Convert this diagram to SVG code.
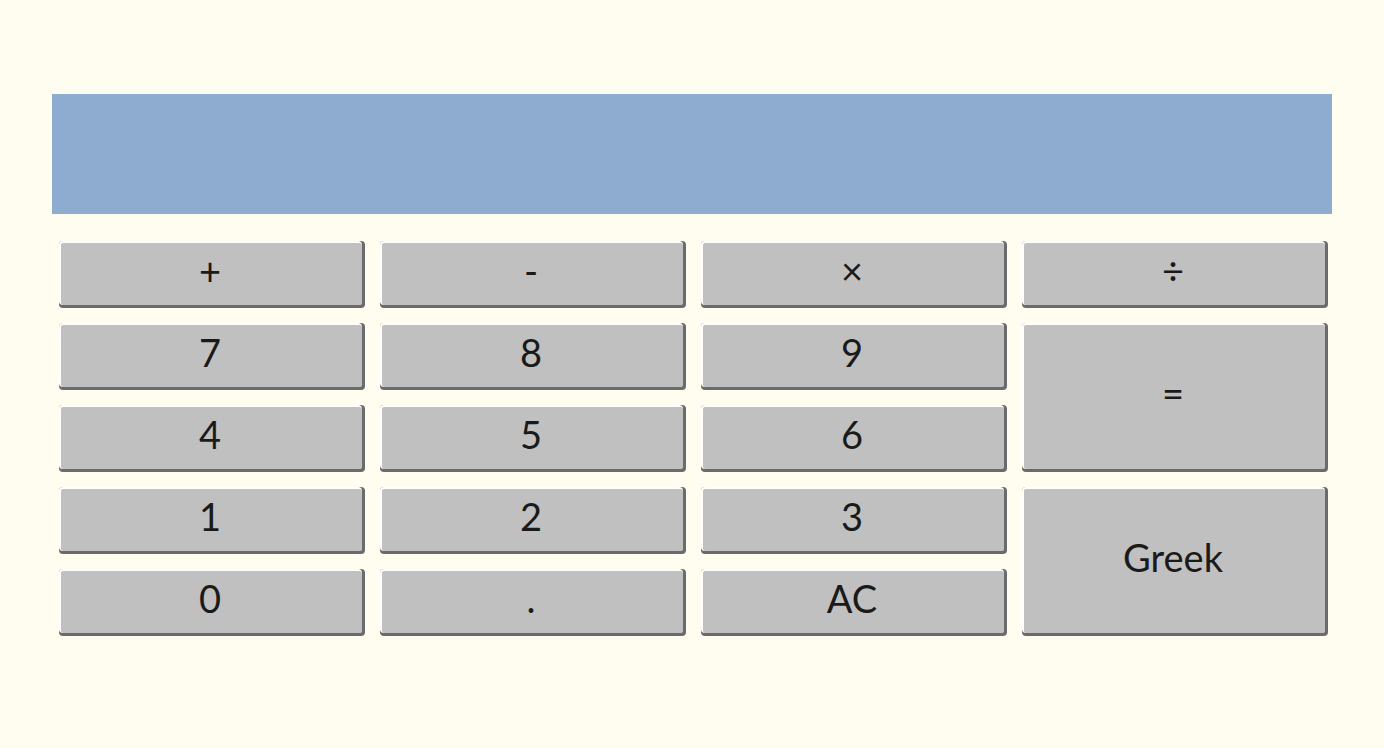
<svg xmlns="http://www.w3.org/2000/svg" width="1384" height="748" viewBox="0 0 1384 748">
<style>
.d{fill:#6b6b6b}
.w{fill:#ffffff}
.g{fill:#c0c0c0}
.t{font-family:"Lato","Noto Sans",sans-serif;font-size:38px;fill:#1a1a1a;text-anchor:middle}
</style>
<defs>
<g id="btn">
<rect class="d" x="0" y="0" width="306" height="67" rx="4"/>
<rect class="w" x="0" y="0" width="303" height="64" rx="4"/>
<rect class="g" x="2" y="2" width="301" height="62" rx="2"/>
</g>
<g id="btnT">
<rect class="d" x="0" y="0" width="306" height="149" rx="4"/>
<rect class="w" x="0" y="0" width="303" height="146" rx="4"/>
<rect class="g" x="2" y="2" width="301" height="144" rx="2"/>
</g>
</defs>
<rect width="1384" height="748" fill="#fffdf0"/>
<g id="display"><rect x="52" y="94" width="1280" height="120" fill="#8eacd0"/></g>
<g id="b-plus"><use href="#btn" x="59" y="241"/><text class="t" x="210" y="285">+</text></g>
<g id="b-minus"><use href="#btn" x="380" y="241"/><text class="t" x="531" y="285">-</text></g>
<g id="b-times"><use href="#btn" x="701" y="241"/><text class="t" x="852" y="285">×</text></g>
<g id="b-div"><use href="#btn" x="1022" y="241"/><text class="t" x="1173" y="285">÷</text></g>
<g id="b-7"><use href="#btn" x="59" y="323"/><text class="t" x="210" y="367">7</text></g>
<g id="b-8"><use href="#btn" x="380" y="323"/><text class="t" x="531" y="367">8</text></g>
<g id="b-9"><use href="#btn" x="701" y="323"/><text class="t" x="852" y="367">9</text></g>
<g id="b-eq"><use href="#btnT" x="1022" y="323"/><text class="t" x="1173" y="408">=</text></g>
<g id="b-4"><use href="#btn" x="59" y="405"/><text class="t" x="210" y="449">4</text></g>
<g id="b-5"><use href="#btn" x="380" y="405"/><text class="t" x="531" y="449">5</text></g>
<g id="b-6"><use href="#btn" x="701" y="405"/><text class="t" x="852" y="449">6</text></g>
<g id="b-1"><use href="#btn" x="59" y="487"/><text class="t" x="210" y="531">1</text></g>
<g id="b-2"><use href="#btn" x="380" y="487"/><text class="t" x="531" y="531">2</text></g>
<g id="b-3"><use href="#btn" x="701" y="487"/><text class="t" x="852" y="531">3</text></g>
<g id="b-greek"><use href="#btnT" x="1022" y="487"/><text class="t" x="1173" y="572">Greek</text></g>
<g id="b-0"><use href="#btn" x="59" y="569"/><text class="t" x="210" y="613">0</text></g>
<g id="b-dot"><use href="#btn" x="380" y="569"/><text class="t" x="531" y="613">.</text></g>
<g id="b-ac"><use href="#btn" x="701" y="569"/><text class="t" x="852" y="613">AC</text></g>
<g id="connectors"/>
</svg>
